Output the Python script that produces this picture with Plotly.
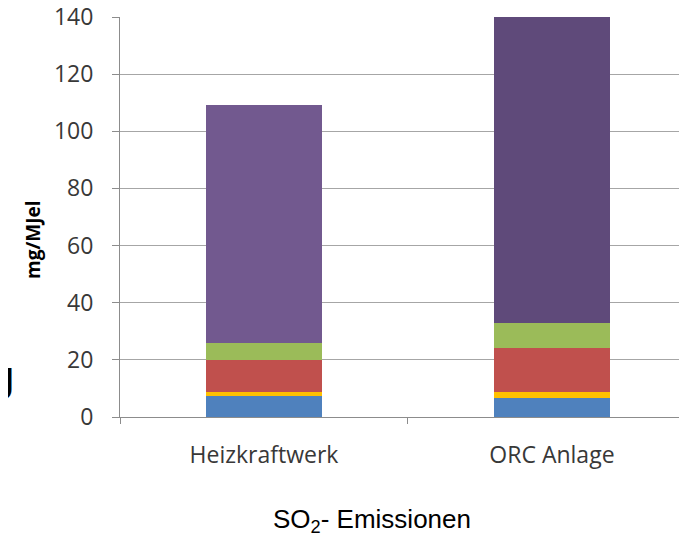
import plotly.graph_objects as go

categories = ["Heizkraftwerk", "ORC Anlage"]
series_names = ["S1", "S2", "S3", "S4", "S5"]
blue_vals = [7.4, 6.5]
yellow_vals = [1.2, 2.1]
red_vals = [11.2, 15.7]
green_vals = [6.2, 8.5]
purple_vals = [83.2, 107.2]
y_ticks = [0, 20, 40, 60, 80, 100, 120, 140]

fig = go.Figure()
layers = [
    (blue_vals, "#4F81BD"),
    (yellow_vals, "#FFC000"),
    (red_vals, "#C0504D"),
    (green_vals, "#9BBB59"),
    (purple_vals, ["#72598F", "#5F4A7A"]),
]
for (vals, col), name in zip(layers, series_names):
    fig.add_trace(go.Bar(x=categories, y=vals, name=name, marker=dict(color=col, line=dict(width=0)),
                         width=0.4, showlegend=False))

font_fam = "Open Sans, Liberation Sans, sans-serif"
# page body has an 8px margin, so the figure is 8px smaller and offset
fig.update_layout(
    barmode="stack",
    width=679, height=526,
    margin=dict(l=112, r=0, t=9, b=117, autoexpand=False),
    plot_bgcolor="white", paper_bgcolor="white",
    xaxis=dict(range=[-0.5, 1.469], showline=True, linecolor="#8C8C8C", linewidth=1,
               ticks="outside", tickson="boundaries", ticklen=6, tickcolor="#8C8C8C",
               tickfont=dict(family=font_fam, size=23, color="#383838"), ticklabelstandoff=17,
               showgrid=False, zeroline=False, automargin=False),
    yaxis=dict(range=[0, 140], tickvals=y_ticks, showline=True, linecolor="#8C8C8C", linewidth=1,
               ticks="outside", ticklen=7, tickcolor="#8C8C8C", ticklabeloverflow="allow",
               tickfont=dict(family=font_fam, size=23, color="#383838"), ticklabelstandoff=14,
               showgrid=True, gridcolor="#A6A6A6", gridwidth=1, zeroline=False, automargin=False),
    annotations=[
        dict(text="<b>mg/MJel</b>", xref="paper", yref="paper", x=(33-120)/567, y=(417-240)/400,
             xanchor="center", yanchor="middle", showarrow=False, textangle=-90,
             font=dict(family=font_fam, size=19, color="#000000")),
        dict(text="SO<sub>2</sub>- Emissionen", xref="paper", yref="paper", x=(372-120)/567, y=-(520-417)/400,
             xanchor="center", yanchor="middle", showarrow=False,
             font=dict(family="Liberation Sans, Arial, sans-serif", size=26, color="#000000")),
        dict(text="J", xref="paper", yref="paper", x=(9-112)/567, y=(417-384)/400,
             xanchor="right", yanchor="middle", showarrow=False,
             font=dict(family="Liberation Sans, Arial, sans-serif", size=46, color="#000000", weight="bold")),
    ],
)

fig.write_html("out.html")
